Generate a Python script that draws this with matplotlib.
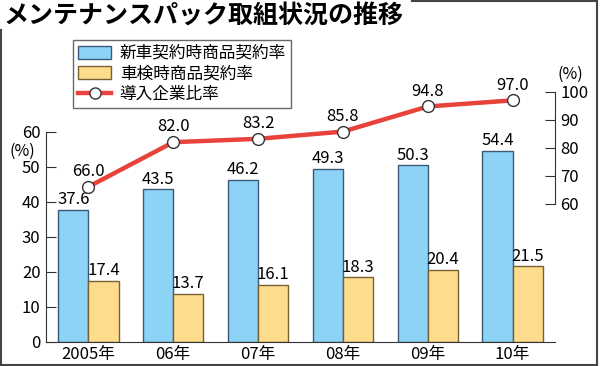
import numpy as np
import matplotlib.pyplot as plt
from matplotlib.patches import Patch
from matplotlib.lines import Line2D

plt.rcParams['font.family'] = ['Noto Sans CJK JP', 'DejaVu Sans']

years = ['2005年', '06年', '07年', '08年', '09年', '10年']
new_car = [37.6, 43.5, 46.2, 49.3, 50.3, 54.4]
inspection = [17.4, 13.7, 16.1, 18.3, 20.4, 21.5]
adoption = [66.0, 82.0, 83.2, 85.8, 94.8, 97.0]

c_blue = '#8dd3f6'
c_yellow = '#fddc8e'
c_red = '#e8433a'

fig = plt.figure(figsize=(6, 3.66), dpi=100)
ax = fig.add_axes([46/600, 1-341.5/366, 509/600, 249.5/366])
ax2 = ax.twinx()

x = np.arange(len(years))
w = 0.355
ax.bar(x - w/2, new_car, w, color=c_blue, edgecolor='#3a5a78', lw=1.0, zorder=2)
ax.bar(x + w/2, inspection, w, color=c_yellow, edgecolor='#7a6030', lw=1.0, zorder=2)
for i in range(len(years)):
    ax.text(x[i] - w/2, new_car[i] + 0.5, f'{new_car[i]:.1f}', ha='center', va='bottom', fontsize=12)
    ax.text(x[i] + w/2, inspection[i] + 0.5, f'{inspection[i]:.1f}', ha='center', va='bottom', fontsize=12)

ax2.plot(x, adoption, '-o', color=c_red, lw=3.2, ms=8.5, mfc='white', mec='#333333', mew=1.0, zorder=3)
for i in range(len(years)):
    ax2.text(x[i], adoption[i] + 2.4, f'{adoption[i]:.1f}', ha='center', va='bottom', fontsize=12)

ax.set_xlim(-0.5, 5.5)
ax.set_ylim(0, 71.3)
ax2.set_ylim(10.5, 100)
ax.set_yticks(range(0, 61, 10))
ax2.set_yticks(range(60, 101, 10))
ax.set_xticks(x)
ax.set_xticklabels(years, fontsize=12)
ax.tick_params(axis='x', length=0, pad=3)
ax.tick_params(axis='y', direction='in', length=7, labelsize=12, pad=4, color='#333333')
ax2.tick_params(axis='y', direction='in', length=7, labelsize=12, pad=4, color='#333333')

for a in (ax, ax2):
    a.spines['top'].set_visible(False)
    a.patch.set_visible(False)
ax.spines['right'].set_visible(False)
ax2.spines['left'].set_visible(False)
ax2.spines['bottom'].set_visible(False)
ax.spines['left'].set_bounds(0, 60)
ax2.spines['right'].set_bounds(60, 100)
for s in ('left', 'bottom'):
    ax.spines[s].set_color('#333333')
ax2.spines['right'].set_color('#333333')

fig.text(22/600, 1-151/366, '(%)', ha='center', va='center', fontsize=11.5)
fig.text(570/600, 1-74/366, '(%)', ha='center', va='center', fontsize=11.5)

# frame around the chart
fk = dict(color='#444444', lw=1.5, transform=fig.transFigure)
fig.add_artist(Line2D([1/600, 1/600], [1-30/366, 1/366], **fk))
fig.add_artist(Line2D([1/600, 597/600], [1/366, 1/366], **fk))
fig.add_artist(Line2D([597/600, 597/600], [1/366, 1], **fk))
fig.add_artist(Line2D([412/600, 597/600], [365/366, 365/366], **fk))

fig.text(4/600, 1-16/366, 'メンテナンスパック取組状況の推移', ha='left', va='center',
         fontsize=18, fontweight='bold')

handles = [Patch(facecolor=c_blue, edgecolor='#3a5a78'),
           Patch(facecolor=c_yellow, edgecolor='#7a6030'),
           Line2D([], [], color=c_red, lw=3.2, marker='o', ms=8, mfc='white', mec='#333333')]
labels = ['新車契約時商品契約率', '車検時商品契約率', '導入企業比率']
leg = fig.legend(handles, labels, loc='upper left', bbox_to_anchor=(73/600, 1-40/366),
                 bbox_transform=fig.transFigure, fontsize=12, frameon=True, fancybox=False,
                 edgecolor='#444444', handlelength=2.0, handleheight=0.8, labelspacing=0.2,
                 borderpad=0.3, handletextpad=0.5, borderaxespad=0)
leg.get_frame().set_linewidth(1.0)

fig.savefig('out.png', dpi=100)
